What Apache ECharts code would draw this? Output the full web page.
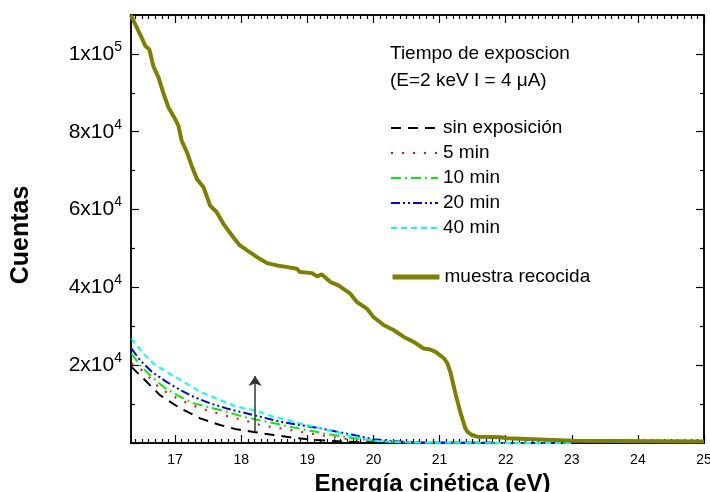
<!DOCTYPE html>
<html><head><meta charset="utf-8">
<script src="https://cdn.jsdelivr.net/npm/echarts@6/dist/echarts.min.js"></script>
<style>html,body{margin:0;padding:0;background:#fff}#c{width:710px;height:492px}</style>
</head><body><div id="c"></div>
<script>
// ---- data ----
const seriesNames = ['sin exposición', '5 min', '10 min', '20 min', '40 min', 'muestra recocida'];
const seriesColors = ['#000000', '#ff0000', '#00ee00', '#0000ff', '#00ffff', '#808000'];

const xSin = [16.34, 16.57, 16.77, 17.08, 17.38, 17.68, 17.93, 18.19, 18.49, 18.79, 19.10, 19.40, 19.70, 20.71, 21.5, 23.0];
const ySin = [19560, 15720, 12310, 8900, 6330, 4620, 3510, 2820, 2050, 1360, 770, 510, 260, 80, 40, 0];

const x5 = [16.34, 16.44, 16.60, 16.77, 17.08, 17.38, 17.73, 18.03, 18.29, 18.59, 18.89, 19.20, 19.50, 19.80, 20.21, 20.71, 21.5, 23.0];
const y5 = [20430, 19560, 17000, 14020, 11030, 8900, 7180, 5900, 4620, 3770, 2900, 2050, 1210, 590, 260, 80, 40, 0];

const x10 = [16.34, 16.47, 16.62, 16.82, 17.03, 17.28, 17.53, 17.78, 18.03, 18.39, 18.69, 18.99, 19.30, 19.60, 19.90, 20.21, 20.71, 21.5, 23.0];
const y10 = [23000, 20000, 17440, 14430, 12310, 10180, 9150, 8030, 6740, 5460, 4360, 3330, 2310, 1470, 770, 330, 80, 40, 0];

const x20 = [16.34, 16.47, 16.65, 16.87, 17.08, 17.28, 17.53, 17.78, 17.98, 18.29, 18.59, 18.89, 19.20, 19.45, 19.70, 20.00, 20.31, 20.71, 21.5, 23.0];
const y20 = [24280, 21280, 18280, 15720, 13590, 11870, 10180, 8890, 8030, 6740, 5460, 4620, 3770, 2900, 2050, 950, 440, 80, 40, 0];

const x40 = [16.34, 16.52, 16.67, 16.87, 17.13, 17.38, 17.68, 17.93, 18.19, 18.49, 18.79, 19.10, 19.40, 19.70, 20.00, 20.31, 20.71, 21.5, 23.0];
const y40 = [26840, 23000, 20430, 18280, 15720, 13150, 11030, 9310, 8460, 6740, 5460, 4180, 2900, 1620, 590, 260, 80, 40, 0];

const xRec = [16.33, 16.47, 16.55, 16.61, 16.67, 16.75, 16.82, 16.90, 17.00, 17.05, 17.10, 17.18, 17.25, 17.33, 17.43, 17.53, 17.63, 17.73, 17.88, 17.98, 18.09, 18.24, 18.39, 18.54, 18.70, 18.84, 18.89, 19.07, 19.15, 19.22, 19.35, 19.47, 19.65, 19.75, 19.90, 20.00, 20.16, 20.31, 20.46, 20.61, 20.76, 20.86, 20.94, 21.07, 21.12, 21.17, 21.24, 21.32, 21.39, 21.42, 21.49, 21.57, 21.92, 22.02, 23.01, 25.0];
const yRec = [110000, 105050, 102050, 101200, 96900, 93900, 90070, 86230, 83260, 81540, 77690, 74690, 71280, 67870, 65720, 61020, 59300, 56330, 52890, 50770, 49490, 47770, 46230, 45640, 45200, 44790, 43920, 43660, 42820, 43330, 41360, 40510, 38380, 36230, 34540, 32390, 30260, 28970, 27260, 25970, 24280, 24030, 23410, 21720, 20430, 17870, 12750, 7610, 3770, 2900, 2050, 1620, 1460, 1200, 590, 380];

const xMajorTicks = [17, 18, 19, 20, 21, 22, 23, 24, 25];
const xTickLabels = [17, 18, 19, 20, 21, 22, 23, 24, 25];
const yMajorTicks = [0, 20000, 40000, 60000, 80000, 100000];
const yMinorTicks = [10000, 30000, 50000, 70000, 90000];
const yTickValues = [20000, 40000, 60000, 80000, 100000];
const yTickMantissa = ['2', '4', '6', '8', '1'];
const yTickExponent = ['4', '4', '4', '4', '5'];

const arrowX = 18.21;
const arrowY = [2800, 17200];

const legendTitle = 'Tiempo de exposcion\n(E=2 keV I = 4 \u03bcA)';
const xName = 'Energía cinética (eV)';
const yName = 'Cuentas';

// ---- build ----
const X_MIN = 16.333, X_MAX = 25, Y_MIN = 0, Y_MAX = 110000;
const xMinorTicks = [];
for (let k = 164; k <= 250; k++) { if (k % 10 !== 0) xMinorTicks.push(k / 10); }

const FONT = "'Liberation Sans', Arial, Helvetica, sans-serif";
const xs = [xSin, x5, x10, x20, x40, xRec];
const ys = [ySin, y5, y10, y20, y40, yRec];
const dashTypes = [[10, 7], [2, 9], [10, 4, 2, 4], [9, 3, 2, 3, 2, 3], [6, 4], 'solid'];
const widths = [2, 2, 2, 2, 2, 4];
const legendWidths = [2, 2, 2, 2, 2, 5];

const series = seriesNames.map((name, i) => {
  const s = {
    name, type: 'line', symbol: 'none', showSymbol: false,
    data: xs[i].map((x, j) => [x, ys[i][j]]),
    lineStyle: { color: seriesColors[i], width: widths[i], type: dashTypes[i] },
    itemStyle: { color: seriesColors[i] },
    z: i === 5 ? 5 : 3,
    animation: false
  };
  if (i === 0) {
    s.markLine = {
      silent: true, animation: false,
      symbol: ['none', 'arrow'], symbolSize: 10,
      lineStyle: { color: '#333', width: 1.5, type: 'solid' },
      label: { show: false },
      data: [[{ coord: [arrowX, arrowY[0]] }, { coord: [arrowX, arrowY[1]] }]]
    };
  }
  return s;
});

function xAx(pos, len, ticks, labels) {
  return {
    type: 'value', position: pos, min: X_MIN, max: X_MAX,
    axisLine: { show: true, onZero: false, lineStyle: { color: '#000', width: 1.5 } },
    axisTick: { show: true, inside: true, length: len, customValues: ticks, lineStyle: { color: '#000', width: 1.2 } },
    axisLabel: labels ? { show: true, customValues: xTickLabels, margin: 10, fontSize: 14, color: '#000', fontFamily: FONT, formatter: v => String(v) } : { show: false },
    splitLine: { show: false }
  };
}
function yAx(pos, len, ticks, labels) {
  return {
    type: 'value', position: pos, min: Y_MIN, max: Y_MAX,
    axisLine: { show: true, onZero: false, lineStyle: { color: '#000', width: 1.5 } },
    axisTick: { show: true, inside: true, length: len, customValues: ticks, lineStyle: { color: '#000', width: 1.2 } },
    axisLabel: labels ? {
      show: true, customValues: yTickValues, margin: 9, fontSize: 21, color: '#000', fontFamily: FONT,
      formatter: v => { const k = yTickValues.indexOf(v); return k < 0 ? '' : yTickMantissa[k] + 'x10{sup|' + yTickExponent[k] + '}'; },
      rich: { sup: { fontSize: 14, color: '#000', fontFamily: FONT, padding: [0, 0, 14, 0] } }
    } : { show: false },
    splitLine: { show: false }
  };
}

const xAxes = [xAx('bottom', 8, xMajorTicks, true), xAx('bottom', 4, xMinorTicks, false), xAx('top', 8, xMajorTicks, false), xAx('top', 4, xMinorTicks, false)];
Object.assign(xAxes[0], { name: xName, nameLocation: 'middle', nameGap: 23,
  nameTextStyle: { fontSize: 24, fontWeight: 'bold', color: '#000', fontFamily: FONT, padding: [0, 0, 0, 30] } });
const yAxes = [yAx('left', 8, yMajorTicks, true), yAx('left', 4, yMinorTicks, false), yAx('right', 8, yMajorTicks, false), yAx('right', 4, yMinorTicks, false)];
Object.assign(yAxes[0], { name: yName, nameLocation: 'middle', nameGap: 97, nameRotate: 90,
  nameTextStyle: { fontSize: 25, fontWeight: 'bold', color: '#000', fontFamily: FONT, padding: [0, 12, 0, 0] } });

const legendCommon = {
  orient: 'vertical', left: 390, padding: 0,
  itemWidth: 47, itemHeight: 14, itemGap: 5, selectedMode: false,
  itemStyle: { opacity: 0, borderWidth: 0 },
  textStyle: { fontSize: 19, color: '#000', fontFamily: FONT, lineHeight: 20 }
};
const legendData = seriesNames.map((name, i) => ({ name, lineStyle: { width: legendWidths[i], color: seriesColors[i], type: dashTypes[i] } }));

const option = {
  animation: false,
  backgroundColor: '#fff',
  grid: { left: 131, right: 6, top: 15, bottom: 49, containLabel: false, outerBoundsMode: 'none' },
  title: { text: legendTitle, left: 390, top: 40, padding: 0,
    textStyle: { fontSize: 19, fontWeight: 'normal', color: '#000', fontFamily: FONT, lineHeight: 27 } },
  legend: [
    Object.assign({ data: legendData.slice(0, 5), top: 118 }, legendCommon),
    Object.assign({ data: [legendData[5]], top: 267 }, legendCommon)
  ],
  xAxis: xAxes,
  yAxis: yAxes,
  series
};
const chart = echarts.init(document.getElementById('c'), null, { renderer: 'canvas' });
chart.setOption(option);
</script></body></html>
